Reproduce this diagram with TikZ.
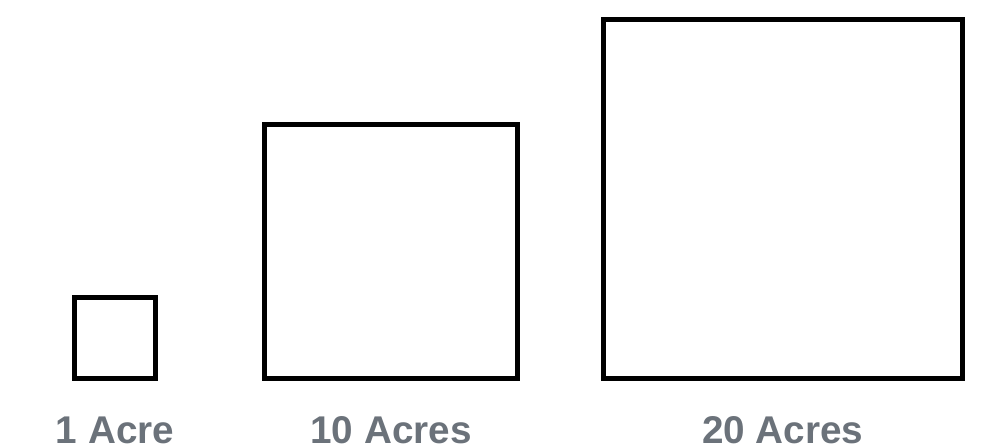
\documentclass[tikz,border=0pt]{standalone}
\usepackage{fontspec}
\setmainfont{Liberation Sans}
\usetikzlibrary{positioning}
\definecolor{labelgray}{RGB}{107,114,122}

\begin{document}
\begin{tikzpicture}[
  x=0.75pt, y=0.75pt,
  plot/.style={draw=black, line width=3.5pt, fill=white, inner sep=0pt, anchor=south},
  acrelabel/.style={font=\bfseries\fontsize{29}{34}\selectfont, text=labelgray, anchor=base, inner sep=0pt}
]
\useasboundingbox (0,0) rectangle (986,447);

% plots, sides grow with the area
\node[plot, minimum size=60.75pt] (one) at (115,66.5) {};
\node[plot, minimum size=190.1pt] (ten) at (391,66.5) {};
\node[plot, minimum size=269.2pt] (twenty) at (782.7,66.5) {};

% labels under each plot
\coordinate (baseline) at (0,4);
\node[acrelabel] (lone) at (one.south |- baseline) {1 Acre};
\node[acrelabel] (lten) at (ten.south |- baseline) {10 Acres};
\node[acrelabel] (ltwenty) at (twenty.south |- baseline) {20 Acres};

\end{tikzpicture}
\end{document}
